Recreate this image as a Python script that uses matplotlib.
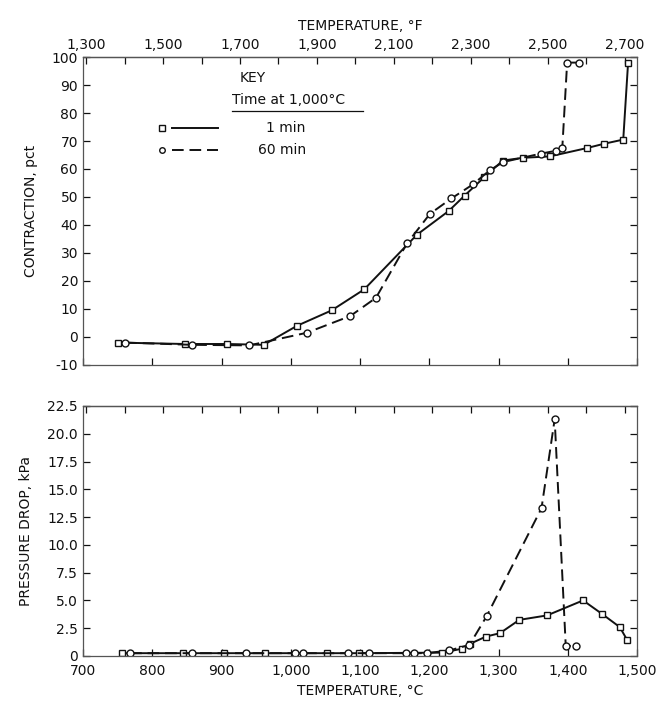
import matplotlib
matplotlib.use('Agg')
import matplotlib.pyplot as plt
from matplotlib.lines import Line2D
from matplotlib.ticker import FuncFormatter, FixedLocator

# contraction, 1 min at 1,000 C
t_con_1 = [751, 847, 908, 961, 1009, 1059, 1106, 1182, 1228, 1251, 1279, 1306, 1335, 1374, 1428, 1452, 1480, 1487]
con_1 = [-2, -2.5, -2.5, -2.8, 4, 9.5, 17, 36.5, 45, 50.5, 57, 63, 64, 64.5, 67.5, 69, 70.5, 98]
# contraction, 60 min at 1,000 C
t_con_60 = [761, 858, 940, 1023, 1086, 1123, 1168, 1201, 1232, 1263, 1287, 1307, 1361, 1383, 1392, 1399, 1416]
con_60 = [-2, -2.8, -3, 1.5, 7.5, 14, 33.5, 44, 49.5, 54.5, 59.5, 62.5, 65.5, 66.5, 67.5, 98, 98]

# pressure drop
t_p_1 = [757, 845, 903, 963, 1052, 1099, 1219, 1247, 1259, 1282, 1302, 1330, 1370, 1422, 1449, 1475, 1486]
p_1 = [0.25, 0.25, 0.25, 0.25, 0.25, 0.25, 0.3, 0.65, 1.1, 1.75, 2.05, 3.25, 3.65, 5.0, 3.8, 2.6, 1.4]
t_p_60 = [768, 857, 936, 1006, 1018, 1082, 1113, 1166, 1178, 1196, 1229, 1258, 1283, 1362, 1381, 1397, 1412]
p_60 = [0.25, 0.25, 0.25, 0.25, 0.25, 0.25, 0.25, 0.25, 0.25, 0.25, 0.5, 1.0, 3.6, 13.3, 21.3, 0.9, 0.9]

c_ticks = [700, 800, 900, 1000, 1100, 1200, 1300, 1400, 1500]
f_ticks = [1300, 1500, 1700, 1900, 2100, 2300, 2500, 2700]
f_minor = [1400, 1600, 1800, 2000, 2200, 2400, 2600]
con_ticks = [-10, 0, 10, 20, 30, 40, 50, 60, 70, 80, 90, 100]
p_ticks = [0, 2.5, 5, 7.5, 10, 12.5, 15, 17.5, 20, 22.5]

plt.rcParams['font.family'] = ['DejaVu Sans']
plt.rcParams['axes.unicode_minus'] = False
FS = 10
INK = '#111111'


def c2f(c):
    return c * 9.0 / 5.0 + 32


def f2c(f):
    return (f - 32) * 5.0 / 9.0


def comma(v, pos=None):
    return '{:,}'.format(int(round(v)))


def style_axes(ax):
    for s in ax.spines.values():
        s.set_linewidth(0.9)
        s.set_color('#555555')
    ax.tick_params(axis='both', direction='in', length=5, width=0.9,
                   labelsize=FS, colors=INK, right=True)
    ax.set_xlim(700, 1500)
    ax.xaxis.set_major_locator(FixedLocator(c_ticks))
    ax.xaxis.set_major_formatter(FuncFormatter(comma))


def add_f_axis(ax, labels):
    sec = ax.secondary_xaxis('top', functions=(c2f, f2c))
    sec.xaxis.set_major_locator(FixedLocator(f_ticks))
    sec.xaxis.set_minor_locator(FixedLocator(f_minor))
    sec.tick_params(which='both', direction='in', length=5, width=0.9,
                    labelsize=FS, colors=INK)
    sec.spines['top'].set_linewidth(0.9)
    sec.spines['top'].set_color('#555555')
    if labels:
        sec.xaxis.set_major_formatter(FuncFormatter(comma))
        sec.set_xlabel('TEMPERATURE, °F', fontsize=FS, labelpad=6, color=INK)
    else:
        sec.set_xticklabels([])
    return sec


fig = plt.figure(figsize=(6.66, 7.09), dpi=100)
ax1 = fig.add_axes([0.1246, 0.4852, 0.832, 0.4344])
ax2 = fig.add_axes([0.1246, 0.0748, 0.832, 0.3526])

mk = dict(markersize=5, markerfacecolor='white', markeredgecolor=INK,
          markeredgewidth=1.0, color=INK, linewidth=1.4)

# top panel
style_axes(ax1)
ax1.plot(t_con_1, con_1, marker='s', linestyle='-', **mk)
ax1.plot(t_con_60, con_60, marker='o', linestyle=(0, (6, 3)), **mk)
ax1.set_ylim(-10, 100)
ax1.yaxis.set_major_locator(FixedLocator(con_ticks))
ax1.set_xticklabels([])
ax1.set_ylabel('CONTRACTION, pct', fontsize=FS, color=INK, labelpad=10)
add_f_axis(ax1, True)

# key
ax1.text(0.283, 0.932, 'KEY', transform=ax1.transAxes, fontsize=FS,
         ha='left', va='center', color=INK)
ax1.text(0.269, 0.862, 'Time at 1,000°C', transform=ax1.transAxes,
         fontsize=FS, ha='left', va='center', color=INK)
ax1.add_line(Line2D([0.269, 0.505], [0.826, 0.826], transform=ax1.transAxes,
                    color=INK, linewidth=0.9))
ax1.add_line(Line2D([0.143], [0.769], transform=ax1.transAxes, marker='s',
                    markersize=4, markerfacecolor='white',
                    markeredgecolor=INK, linestyle='none'))
ax1.add_line(Line2D([0.160, 0.244], [0.769, 0.769], transform=ax1.transAxes,
                    color=INK, linewidth=1.4))
ax1.add_line(Line2D([0.143], [0.698], transform=ax1.transAxes, marker='o',
                    markersize=4, markerfacecolor='white',
                    markeredgecolor=INK, linestyle='none'))
ax1.add_line(Line2D([0.160, 0.244], [0.698, 0.698], transform=ax1.transAxes,
                    color=INK, linewidth=1.4, linestyle=(0, (6, 3))))
ax1.text(0.365, 0.769, '1 min', transform=ax1.transAxes, fontsize=FS,
         ha='center', va='center', color=INK)
ax1.text(0.360, 0.698, '60 min', transform=ax1.transAxes, fontsize=FS,
         ha='center', va='center', color=INK)

# bottom panel
style_axes(ax2)
ax2.plot(t_p_1, p_1, marker='s', linestyle='-', **mk)
ax2.plot(t_p_60, p_60, marker='o', linestyle=(0, (6, 3)), **mk)
ax2.set_ylim(0, 22.5)
ax2.yaxis.set_major_locator(FixedLocator(p_ticks))
ax2.yaxis.set_major_formatter(FuncFormatter(lambda v, p: '0' if v == 0 else '{:.1f}'.format(v)))
ax2.set_ylabel('PRESSURE DROP, kPa', fontsize=FS, color=INK, labelpad=10)
ax2.set_xlabel('TEMPERATURE, °C', fontsize=FS, color=INK, labelpad=4)
ax2.tick_params(axis='x', pad=6)
add_f_axis(ax2, False)

fig.savefig('out.png', dpi=100)
